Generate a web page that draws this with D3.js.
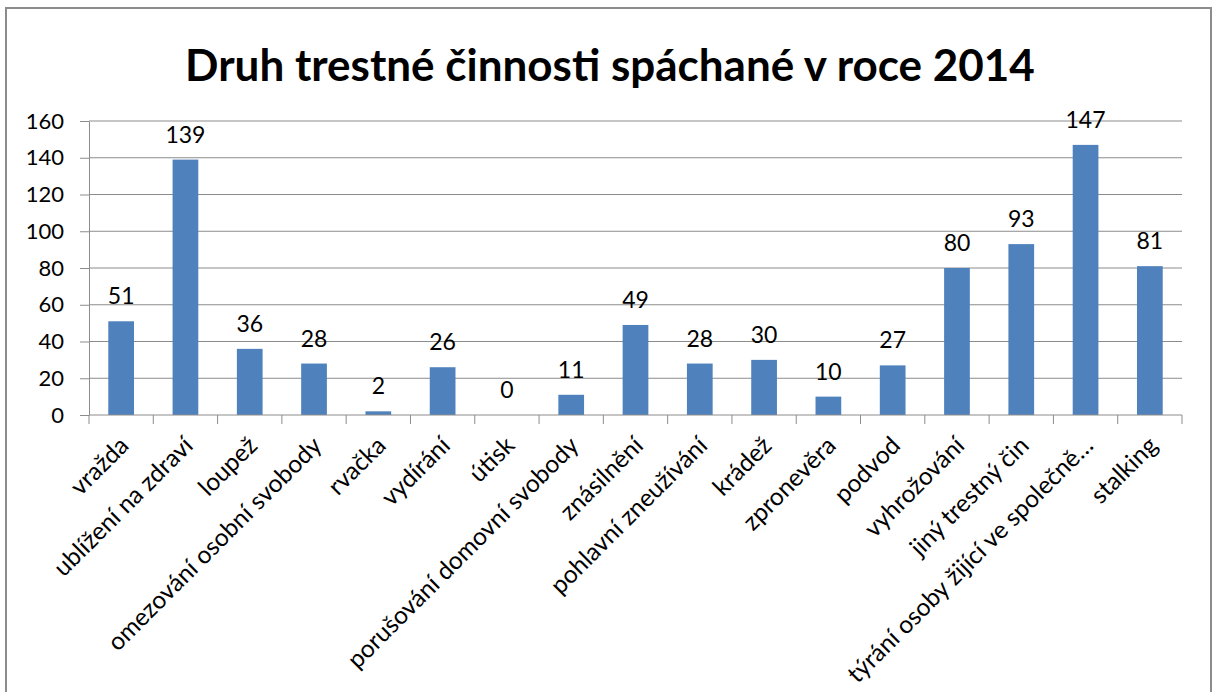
<!DOCTYPE html>
<html>
<head>
<meta charset="utf-8">
<script src="https://cdn.jsdelivr.net/npm/d3@7"></script>
<style>
  body { margin: 0; background: #fff; }
  text { font-family: Lato, "Open Sans", sans-serif; fill: #000; }
</style>
</head>
<body>
<div id="chart"></div>
<script>
// data
var categories = ["vražda", "ublížení na zdraví", "loupež", "omezování osobní svobody", "rvačka",
    "vydírání", "útisk", "porušování domovní svobody", "znásilnění", "pohlavní zneužívání",
    "krádež", "zpronevěra", "podvod", "vyhrožování", "jiný trestný čin",
    "týrání osoby žijící ve společně…", "stalking"];
var counts = [51, 139, 36, 28, 2, 26, 0, 11, 49, 28, 30, 10, 27, 80, 93, 147, 81];
var yTicks = [0, 20, 40, 60, 80, 100, 120, 140, 160];
var title = "Druh trestné činnosti spáchané v roce 2014";

var width = 1218, height = 692;
var margin = {left: 89, right: 36, top: 121, bottom: 277};

var svg = d3.select("#chart").append("svg")
    .attr("width", width)
    .attr("height", height);

// chart frame
svg.append("rect")
    .attr("x", 6).attr("y", 8)
    .attr("width", 1205).attr("height", 700)
    .attr("fill", "#fff")
    .attr("stroke", "#8c8c8c")
    .attr("stroke-width", 2);

svg.append("text")
    .attr("x", 610).attr("y", 81)
    .attr("text-anchor", "middle")
    .attr("font-size", 44)
    .attr("font-weight", "bold")
    .text(title);

var x = d3.scaleBand()
    .domain(categories)
    .range([margin.left, width - margin.right])
    .paddingInner(0.6)
    .paddingOuter(0.3);

var y = d3.scaleLinear()
    .domain([0, 160])
    .range([height - margin.bottom, margin.top]);

// gridlines + y axis
var yAxis = svg.append("g")
    .attr("transform", "translate(" + margin.left + ",0)")
    .call(d3.axisLeft(y).tickValues(yTicks).tickSize(9).tickSizeOuter(0));
yAxis.select(".domain").attr("stroke", "#8c8c8c");
yAxis.selectAll(".tick line").attr("stroke", "#8c8c8c");
yAxis.selectAll(".tick text")
    .attr("font-size", 22)
    .attr("font-family", "Lato, sans-serif")
    .attr("fill", "#000")
    .attr("x", -25);

svg.append("g").selectAll("line")
    .data(yTicks.filter(function(d) { return d > 0; }))
    .enter().append("line")
    .attr("x1", margin.left).attr("x2", width - margin.right)
    .attr("y1", function(d) { return y(d); })
    .attr("y2", function(d) { return y(d); })
    .attr("stroke", "#8c8c8c");

// bars
svg.append("g").selectAll("rect")
    .data(counts)
    .enter().append("rect")
    .attr("x", function(d, i) { return x(categories[i]); })
    .attr("y", function(d) { return y(d); })
    .attr("width", x.bandwidth())
    .attr("height", function(d) { return y(0) - y(d); })
    .attr("fill", "#4f81bd");

// value labels
svg.append("g").selectAll("text")
    .data(counts)
    .enter().append("text")
    .attr("x", function(d, i) { return x(categories[i]) + x.bandwidth() / 2; })
    .attr("y", function(d) { return y(d) - 17; })
    .attr("text-anchor", "middle")
    .attr("font-size", 23)
    .text(function(d) { return d; });

// x axis with tick marks between categories
var step = x.step();
var xAxis = svg.append("g")
    .attr("transform", "translate(0," + y(0) + ")");
xAxis.append("line")
    .attr("x1", margin.left).attr("x2", width - margin.right)
    .attr("stroke", "#8c8c8c");
xAxis.selectAll("line.tick")
    .data(d3.range(categories.length + 1))
    .enter().append("line")
    .attr("class", "tick")
    .attr("x1", function(i) { return margin.left + i * step; })
    .attr("x2", function(i) { return margin.left + i * step; })
    .attr("y1", 0).attr("y2", 9)
    .attr("stroke", "#8c8c8c");

xAxis.selectAll("text")
    .data(categories)
    .enter().append("text")
    .attr("transform", function(d) {
        var cx = x(d) + x.bandwidth() / 2 + 3;
        return "translate(" + cx + ",26) rotate(-45)";
    })
    .attr("text-anchor", "end")
    .attr("dy", "0.35em")
    .attr("font-size", 24.5)
    .text(function(d) { return d; });
</script>
</body>
</html>
